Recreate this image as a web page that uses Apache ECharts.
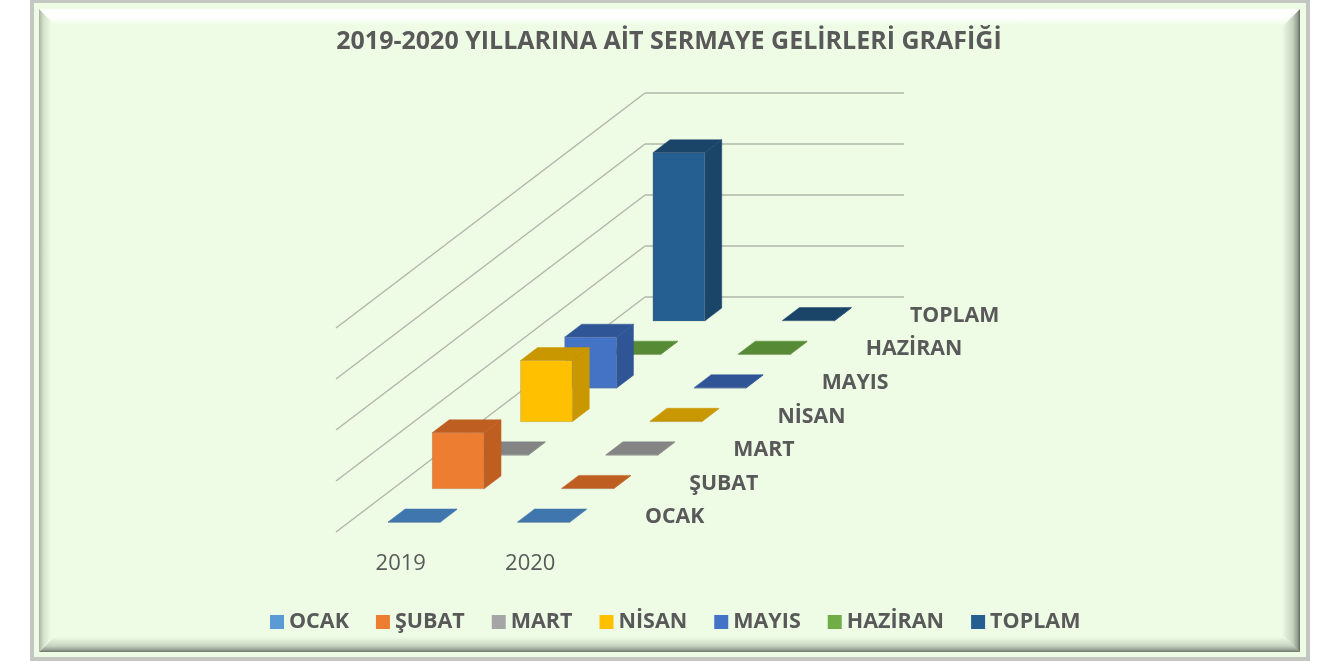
<!DOCTYPE html>
<html lang="tr">
<head>
    <meta charset="utf-8"/>
    <title>Sermaye Gelirleri</title>
    <script src="https://cdn.jsdelivr.net/npm/echarts@6/dist/echarts.min.js"></script>
    <style>
        html, body { margin: 0; padding: 0; background: #fff; overflow: hidden; }
        #frame { position: absolute; left: 30px; top: 0; width: 1280px; height: 661px; box-sizing: border-box;
                 border: 4px solid #c4c6c2; border-top-width: 3px; background: #eefce6; }
        .bevel { position: absolute; }
        #main { position: absolute; left: 0; top: 0; width: 1332px; height: 661px; filter: blur(0.4px); }
    </style>
</head>
<body>
<div id="frame"></div>
<div class="bevel" style="left:39px;top:9px;width:1261px;height:16px;background:linear-gradient(#fff 55%,#eefce6);clip-path:polygon(0 0,100% 0,calc(100% - 16px) 100%,16px 100%);"></div>
<div class="bevel" style="left:39px;top:9px;width:12px;height:643px;background:linear-gradient(90deg,#a9b5a4,#d5e3cd 40%,#eefce6);clip-path:polygon(0 0,100% 12px,100% calc(100% - 14px),0 100%);"></div>
<div class="bevel" style="left:1282px;top:9px;width:18px;height:643px;background:linear-gradient(90deg,#eefce6,#c5d2bf 60%,#8f9a8b 88%,#5f665c);clip-path:polygon(0 18px,100% 0,100% 100%,0 calc(100% - 15px));"></div>
<div class="bevel" style="left:39px;top:637px;width:1261px;height:15px;background:linear-gradient(#eefce6,#c5d2bf 60%,#98a294 85%,#6c7369);clip-path:polygon(15px 0,calc(100% - 15px) 0,100% 100%,0 100%);"></div>
<div id="main"></div>
<script type="text/javascript">

    // degerler, eksen etiketi yok (birim: kilavuz cizgisi)
    var years = ['2019', '2020'];
    var months = ['OCAK', 'ŞUBAT', 'MART', 'NİSAN', 'MAYIS', 'HAZİRAN', 'TOPLAM'];
    var ocak = [0.01, 0.01];
    var subat = [1.1, 0.01];
    var mart = [0.01, 0.01];
    var nisan = [1.2, 0.01];
    var mayis = [1.0, 0.01];
    var haziran = [0.01, 0.01];
    var toplam = [3.3, 0.01];
    var gridTicks = [0, 1, 2, 3, 4];

    var monthValues = [ocak, subat, mart, nisan, mayis, haziran, toplam];
    var frontColors = ['#5B9BD5', '#ED7D31', '#A5A5A5', '#FFC000', '#4472C4', '#70AD47', '#255E91'];
    var shadeColors = ['#3F76AE', '#BE5E20', '#848484', '#C99700', '#2F5597', '#568A35', '#1A4468'];

    // derinlik ekseni: bir ay icin ekrandaki kayma
    var depthX = 44.14, depthY = -33.57;
    var depthCount = months.length;

    // arka duvardaki noktayi derinlige gore one tasi
    function project(p, depth) {
        var back = depthCount - depth;
        return [p[0] - back * depthX, p[1] - back * depthY];
    }

    function bar3d(monthIdx) {
        return function (params, api) {
            var year = api.value(0), val = api.value(1);
            var bandW = api.size([1, 0])[0];
            var cx = api.coord([year, 0])[0];
            var top = api.coord([year, val])[1];
            var base = api.coord([year, 0])[1];
            var d0 = monthIdx + 0.285, d1 = monthIdx + 0.67;
            var x0 = cx - bandW * 0.195, x1 = cx + bandW * 0.205;
            var fb0 = project([x0, base], d0), fb1 = project([x1, base], d0);
            var ft0 = project([x0, top], d0), ft1 = project([x1, top], d0);
            var bb1 = project([x1, base], d1);
            var bt0 = project([x0, top], d1), bt1 = project([x1, top], d1);
            var shade = shadeColors[monthIdx];
            return {
                type: 'group',
                children: [
                    {type: 'polygon', shape: {points: [fb1, bb1, bt1, ft1]},
                        style: {fill: shade, stroke: shade, lineWidth: 0.5}},
                    {type: 'polygon', shape: {points: [ft0, ft1, bt1, bt0]},
                        style: {fill: shade, stroke: shade, lineWidth: 0.5}},
                    {type: 'polygon', shape: {points: [fb0, fb1, ft1, ft0]},
                        style: {fill: frontColors[monthIdx], stroke: 'rgba(120,120,120,0.4)', lineWidth: 0.6}}
                ]
            };
        };
    }

    var seriesList = months.map(function (name, i) {
        return {
            name: name,
            type: 'custom',
            z: 10 - i,
            coordinateSystem: 'cartesian2d',
            itemStyle: {color: frontColors[i]},
            encode: {x: 0, y: 1},
            data: monthValues[i].map(function (v, j) { return [j, v]; }),
            renderItem: bar3d(i)
        };
    });

    // sol duvar cizgileri
    seriesList.push({
        name: 'duvar',
        type: 'custom',
        z: 1,
        encode: {x: 0, y: 1},
        data: gridTicks.map(function (v) { return [0, v]; }),
        renderItem: function (params, api) {
            var y = api.coord([0, api.value(1)])[1];
            var p = [params.coordSys.x, y];
            var q = project(p, 0);
            return {type: 'line', shape: {x1: p[0], y1: p[1], x2: q[0], y2: q[1]},
                style: {stroke: '#b0b7ab', lineWidth: 1.5}};
        }
    });

    // yil etiketleri
    seriesList.push({
        name: 'yillar',
        type: 'custom',
        z: 20,
        encode: {x: 0, y: 1},
        data: years.map(function (y, j) { return [j, 0]; }),
        renderItem: function (params, api) {
            var p = project(api.coord([api.value(0), 0]), 0);
            return {type: 'text', style: {text: years[params.dataIndex], x: p[0], y: p[1] + 32,
                align: 'center', verticalAlign: 'middle', fill: '#595959',
                font: '22px "Open Sans"'}};
        }
    });

    // ay etiketleri
    seriesList.push({
        name: 'aylar',
        type: 'custom',
        z: 20,
        encode: {x: 0, y: 1},
        data: months.map(function (m, i) { return [1, 0]; }),
        renderItem: function (params, api) {
            var band = api.size([1, 0])[0];
            var c = api.coord([1, 0]);
            var p = project([c[0] + band / 2, c[1]], params.dataIndex + 0.5);
            return {type: 'text', style: {text: months[params.dataIndex], x: p[0] + 28, y: p[1] + 2,
                align: 'left', verticalAlign: 'middle', fill: '#595959',
                font: 'bold 21.3px "Open Sans"'}};
        }
    });

    var myChart = echarts.init(document.getElementById('main'), null, {renderer: 'canvas'});
    myChart.setOption({
        backgroundColor: 'transparent',
        animation: false,
        title: {
            text: '2019-2020 YILLARINA AİT SERMAYE GELİRLERİ GRAFİĞİ',
            left: 664,
            top: 37,
            textAlign: 'center',
            textVerticalAlign: 'middle',
            textStyle: {color: '#595959', fontSize: 25, fontWeight: 'bold', fontFamily: 'Open Sans'}
        },
        legend: {
            data: months,
            left: 265,
            top: 606,
            icon: 'rect',
            itemWidth: 14,
            itemHeight: 14,
            itemGap: 27,
            selectedMode: false,
            textStyle: {color: '#595959', fontSize: 21.5, fontWeight: 'bold', fontFamily: 'Open Sans'}
        },
        grid: {left: 645, top: 93, width: 259, height: 204},
        xAxis: {
            type: 'category',
            data: years,
            axisLine: {show: false},
            axisTick: {show: false},
            axisLabel: {show: false},
            splitLine: {show: false}
        },
        yAxis: {
            type: 'value',
            min: 0,
            max: 4,
            interval: 1,
            axisLine: {show: false},
            axisTick: {show: false},
            axisLabel: {show: false},
            splitLine: {show: true, lineStyle: {color: '#b0b7ab', width: 1.5}}
        },
        series: seriesList
    });
</script>
</body>
</html>
